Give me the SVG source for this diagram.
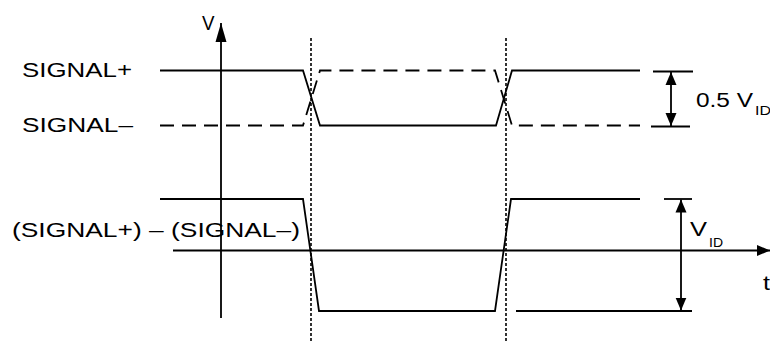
<svg xmlns="http://www.w3.org/2000/svg" width="770" height="341" viewBox="0 0 770 341">
<style>
.ln{fill:none;stroke:#000;stroke-width:1.8}
.dash{fill:none;stroke:#000;stroke-width:1.8;stroke-dasharray:14,8}
.dot{fill:none;stroke:#000;stroke-width:1.6;stroke-dasharray:3,2}
text{font-family:"Liberation Sans",Arial,sans-serif;font-size:20px;fill:#000}
.sub{font-size:13.5px}
</style>
<defs>
<marker id="ah" markerUnits="userSpaceOnUse" markerWidth="14" markerHeight="12" refX="13" refY="6" orient="auto-start-reverse">
<polygon points="0,0.5 13,6 0,11.5" fill="#000"/>
</marker>
<marker id="ahv" markerUnits="userSpaceOnUse" markerWidth="20" markerHeight="12" refX="19" refY="6" orient="auto">
<polygon points="0,0.5 19,6 0,11.5" fill="#000"/>
</marker>
</defs>
<rect width="770" height="341" fill="#fff"/>
<g id="connectors">
<line id="v-axis" class="ln" x1="221" y1="318" x2="221" y2="23" marker-end="url(#ahv)"/>
<line id="t-axis" class="ln" x1="173" y1="250.5" x2="770" y2="250.5" marker-end="url(#ah)"/>
<line id="dot1" class="dot" x1="311" y1="38" x2="311" y2="341"/>
<line id="dot2" class="dot" x1="506" y1="38" x2="506" y2="341"/>
</g>
<g id="signal-plus">
<text x="22" y="76.5" textLength="110" lengthAdjust="spacingAndGlyphs">SIGNAL+</text>
<polyline class="ln" points="160,70.5 303,70.5 320,125.5 496,125.5 512,70.5 640,70.5"/>
</g>
<g id="signal-minus">
<text x="22" y="132" textLength="111" lengthAdjust="spacingAndGlyphs">SIGNAL–</text>
<polyline class="dash" points="160,125.5 303,125.5 320,70.5 495,70.5 512,125.5 640,125.5"/>
</g>
<g id="differential">
<text x="12" y="237" textLength="288" lengthAdjust="spacingAndGlyphs">(SIGNAL+) – (SIGNAL–)</text>
<polyline class="ln" points="160,199 303,199 319,311 495,311 511,199 640,199"/>
<line class="ln" x1="516" y1="311" x2="692" y2="311"/>
</g>
<g id="v-label">
<text x="202" y="30" textLength="12.5" lengthAdjust="spacingAndGlyphs">V</text>
</g>
<g id="t-label">
<text x="763" y="290" textLength="7" lengthAdjust="spacingAndGlyphs">t</text>
</g>
<g id="half-vid">
<line class="ln" x1="653" y1="71.5" x2="693" y2="71.5"/>
<line class="ln" x1="651" y1="126.5" x2="690" y2="126.5"/>
<line class="ln" x1="671" y1="72" x2="671" y2="126" marker-start="url(#ah)" marker-end="url(#ah)"/>
<text x="696" y="107" textLength="57" lengthAdjust="spacingAndGlyphs">0.5 V</text>
<text class="sub" x="755" y="115" textLength="16" lengthAdjust="spacingAndGlyphs">ID</text>
</g>
<g id="vid">
<line class="ln" x1="664" y1="199" x2="692" y2="199"/>
<line class="ln" x1="681" y1="199.5" x2="681" y2="310.5" marker-start="url(#ah)" marker-end="url(#ah)"/>
<text x="690" y="236" textLength="17" lengthAdjust="spacingAndGlyphs">V</text>
<text class="sub" x="709" y="247" textLength="14" lengthAdjust="spacingAndGlyphs">ID</text>
</g>
</svg>
